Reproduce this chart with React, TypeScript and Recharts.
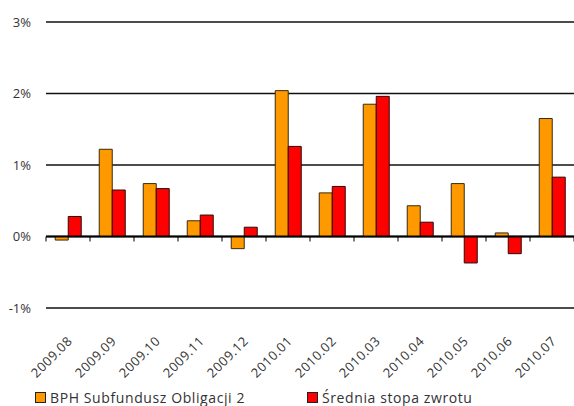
import React from "react";
import {
    BarChart,
    Bar,
    XAxis,
    YAxis,
    CartesianGrid,
    ReferenceLine
} from "recharts";

const miesiace = [
    "2009.08", "2009.09", "2009.10", "2009.11", "2009.12", "2010.01",
    "2010.02", "2010.03", "2010.04", "2010.05", "2010.06", "2010.07"
];

const fundusz = [-0.05, 1.22, 0.74, 0.22, -0.17, 2.04, 0.61, 1.85, 0.43, 0.74, 0.05, 1.65];

const srednia = [0.28, 0.65, 0.67, 0.3, 0.13, 1.26, 0.7, 1.96, 0.2, -0.37, -0.24, 0.83];

const yTicks = [-1, 0, 1, 2, 3];

const nazwaFundusz = "BPH Subfundusz Obligacji 2";
const nazwaSrednia = "Średnia stopa zwrotu";

const dane = miesiace.map((m, i) => ({
    miesiac: m,
    fundusz: fundusz[i],
    srednia: srednia[i]
}));

const FONT = "'Open Sans', Lato, sans-serif";
const TEXT = "#333";

function TickMiesiac({ x, y, payload }: any) {
    return (
        <g transform={`translate(${x},${y})`}>
            <text
                x={5}
                y={26}
                textAnchor="end"
                transform="rotate(-45 5 26)"
                fontSize={13}
                letterSpacing={0.5}
                fontFamily={FONT}
                fill={TEXT}
            >
                {payload.value}
            </text>
        </g>
    );
}

// linia zera z kreskami na granicach kategorii
function LiniaZera(props: any) {
    const { x1, x2, y1 } = props;
    const krok = (x2 - x1) / miesiace.length;
    const kreski = [];
    for (let i = 0; i <= miesiace.length; i++) {
        const x = x1 + krok * i;
        kreski.push(
            <line key={i} x1={x} x2={x} y1={y1} y2={y1 + 5} stroke="#000" strokeWidth={1} />
        );
    }
    return (
        <g>
            <line x1={x1} x2={x2} y1={y1} y2={y1} stroke="#000" strokeWidth={2} />
            {kreski}
        </g>
    );
}

function Legenda() {
    const pozycja = (kolor: string, tekst: string, left: number) => (
        <div style={{ position: "absolute", left, top: 0, display: "flex", alignItems: "center" }}>
            <span
                style={{
                    width: 9,
                    height: 9,
                    background: kolor,
                    border: "1px solid #222",
                    display: "inline-block",
                    marginRight: 4
                }}
            />
            <span style={{ fontSize: 14, letterSpacing: 0.6, color: TEXT, fontFamily: FONT }}>
                {tekst}
            </span>
        </div>
    );
    return (
        <div style={{ position: "absolute", left: 0, top: 388, width: 574, height: 18 }}>
            {pozycja("#FF9900", nazwaFundusz, 35)}
            {pozycja("#FF0000", nazwaSrednia, 307)}
        </div>
    );
}

export default function App() {
    return (
        <div style={{ position: "relative", width: 574, height: 406, background: "#fff" }}>
            <style>{`body{margin:0}`}</style>

            <BarChart
                width={574}
                height={406}
                data={dane}
                margin={{ top: 22, right: 0, left: 0, bottom: 18 }}
                barCategoryGap="21%"
                barGap={0}
            >
                <CartesianGrid vertical={false} stroke="#111" strokeWidth={1.3} />

                <XAxis
                    dataKey="miesiac"
                    axisLine={false}
                    tickLine={false}
                    interval={0}
                    height={80}
                    tick={<TickMiesiac />}
                />

                <YAxis
                    domain={[-1, 3]}
                    ticks={yTicks}
                    width={46}
                    axisLine={false}
                    tickLine={false}
                    tickMargin={9}
                    tickFormatter={(v: number) => `${v}%`}
                    tick={{ fontSize: 13, fill: TEXT, fontFamily: FONT }}
                />

                <Bar
                    dataKey="fundusz"
                    name={nazwaFundusz}
                    fill="#FF9900"
                    stroke="#3a2a10"
                    strokeWidth={1}
                    isAnimationActive={false}
                />

                <Bar
                    dataKey="srednia"
                    name={nazwaSrednia}
                    fill="#FF0000"
                    stroke="#2a0a0a"
                    strokeWidth={1}
                    isAnimationActive={false}
                />

                <ReferenceLine y={0} shape={<LiniaZera />} />
            </BarChart>

            <Legenda />
        </div>
    );
}
